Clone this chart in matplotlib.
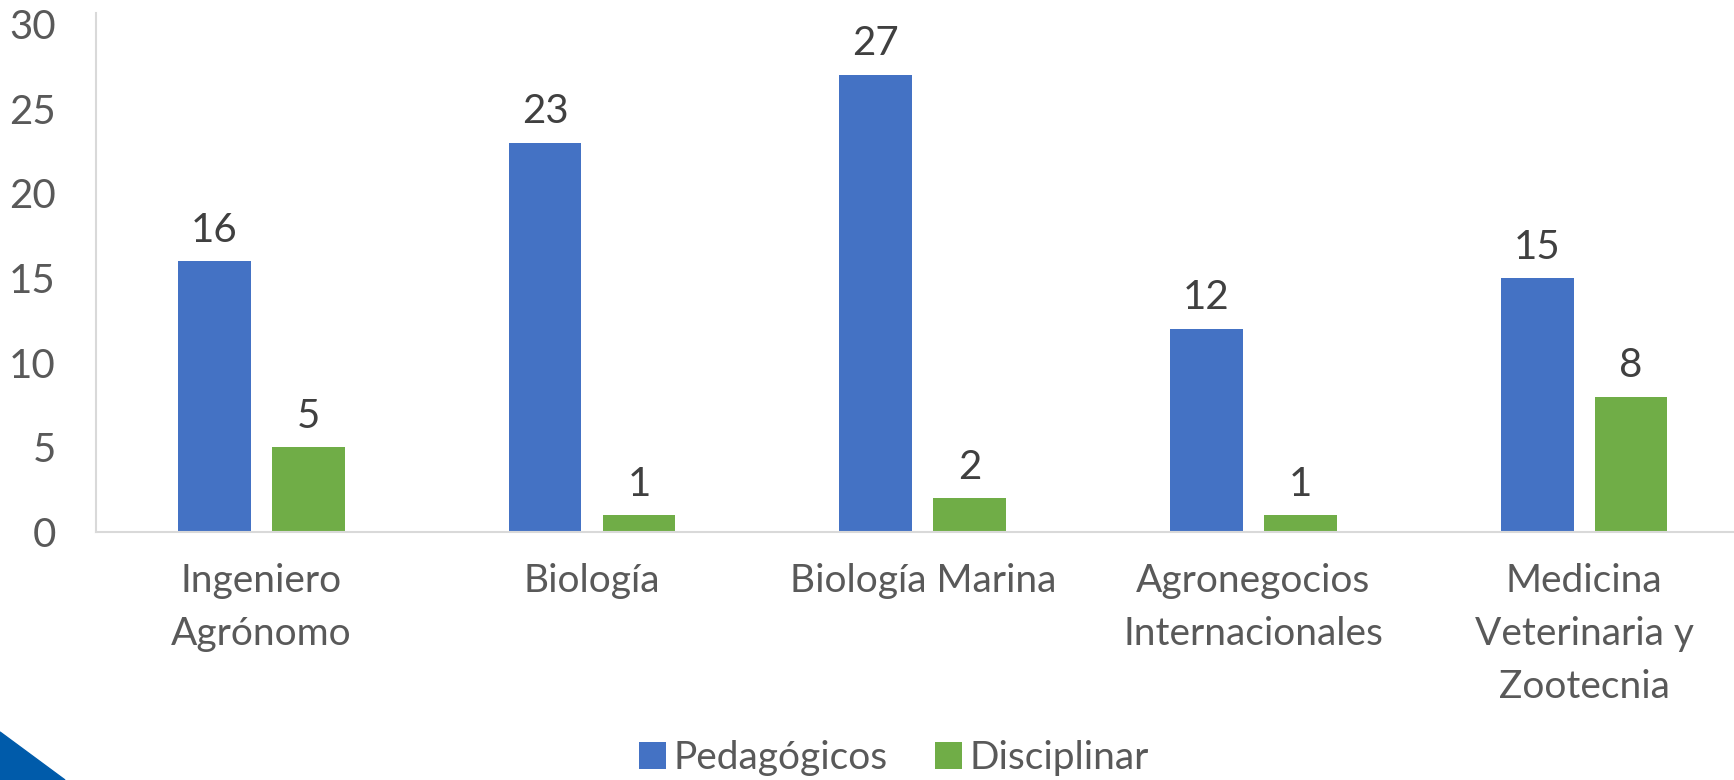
import numpy as np
import matplotlib
matplotlib.use("Agg")
import matplotlib.pyplot as plt
from matplotlib.patches import Polygon

plt.rcParams['font.family'] = ['Lato', 'DejaVu Sans']

# data
carreras = ["Ingeniero\nAgrónomo", "Biología", "Biología Marina",
            "Agronegocios\nInternacionales", "Medicina\nVeterinaria y\nZootecnia"]
pedagogicos = [16, 23, 27, 12, 15]
disciplinar = [5, 1, 2, 1, 8]

W, H = 1734, 780
fig = plt.figure(figsize=(W / 100, H / 100), dpi=100)

# plot area in pixels (left, top of axis, zero line, right edge past the image)
left, top, zero, right = 96, 13, 532, 1749.5
ax = fig.add_axes([left / W, (H - zero) / H, (right - left) / W, (zero - top) / H])

x = np.arange(len(carreras))
bw = 0.22
gap = 0.064
off = (bw + gap) / 2

b1 = ax.bar(x - off, pedagogicos, bw, color='#4472C4', label='Pedagógicos')
b2 = ax.bar(x + off, disciplinar, bw, color='#70AD47', label='Disciplinar')

for bars in (b1, b2):
    ax.bar_label(bars, padding=9, fontsize=29, color='#404040')

ax.set_xlim(-0.5, len(carreras) - 0.5)
ax.set_ylim(0, 30.65)
ax.set_yticks(range(0, 31, 5))
ax.set_xticks(x)
ax.set_xticklabels(carreras, fontsize=28, color='#595959', linespacing=1.6)
ax.tick_params(axis='y', labelsize=29, labelcolor='#595959', length=0, pad=29)
ax.tick_params(axis='x', length=0, pad=22)

for s in ['top', 'right']:
    ax.spines[s].set_visible(False)
ax.spines['left'].set_color('#D9D9D9')
ax.spines['bottom'].set_color('#D9D9D9')
ax.spines['left'].set_linewidth(1.5)
ax.spines['bottom'].set_linewidth(1.5)

fig.legend(loc='center', bbox_to_anchor=(894 / W, (H - 758) / H), ncol=2, frameon=False,
           fontsize=28, labelcolor='#595959', handlelength=0.7, handleheight=0.7,
           handletextpad=0.2, columnspacing=1.2)

# blue corner triangle (decoration)
tri = Polygon([[0, H - 732], [65, 0], [0, 0]], closed=True, color='#005BAA',
              transform=None)
fig.patches.append(tri)

fig.savefig("out.png", dpi=100)
